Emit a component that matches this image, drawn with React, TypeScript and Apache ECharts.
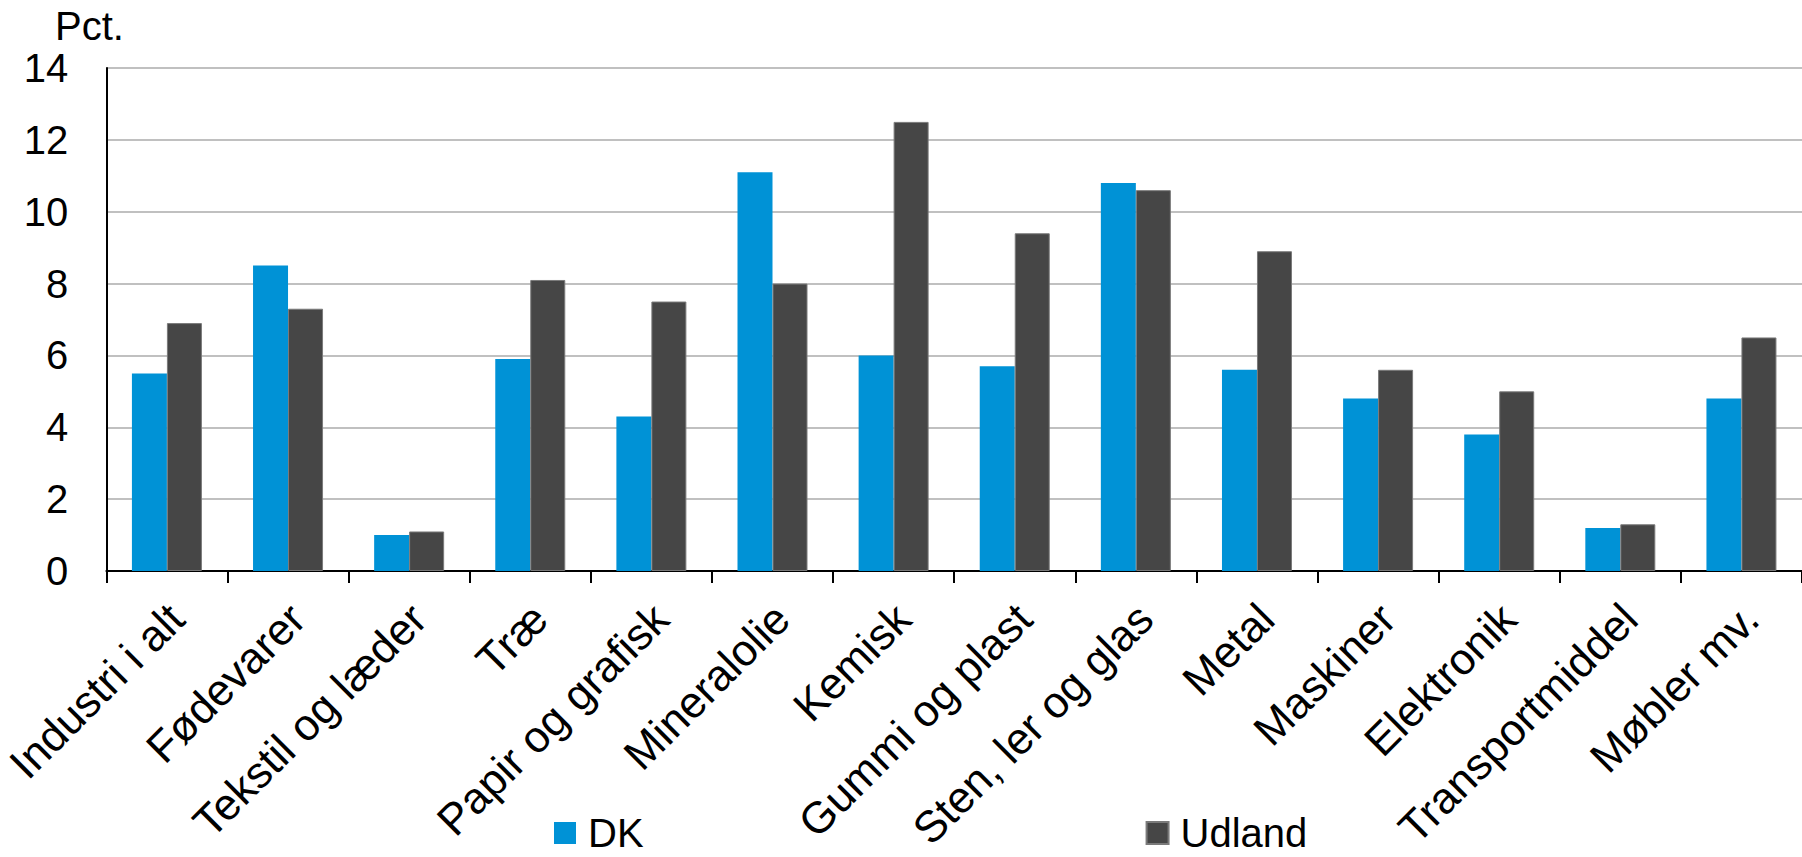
import React, { useEffect, useRef } from "react";
import * as echarts from "echarts";

const categories = [
  "Industri i alt",
  "Fødevarer",
  "Tekstil og læder",
  "Træ",
  "Papir og grafisk",
  "Mineralolie",
  "Kemisk",
  "Gummi og plast",
  "Sten, ler og glas",
  "Metal",
  "Maskiner",
  "Elektronik",
  "Transportmiddel",
  "Møbler mv.",
];
const dkValues = [5.5, 8.5, 1.0, 5.9, 4.3, 11.1, 6.0, 5.7, 10.8, 5.6, 4.8, 3.8, 1.2, 4.8];
const udlandValues = [6.9, 7.3, 1.1, 8.1, 7.5, 8.0, 12.5, 9.4, 10.6, 8.9, 5.6, 5.0, 1.3, 6.5];
const seriesNames = ["DK", "Udland"];
const yUnit = "Pct.";

const FONT = "'Liberation Sans', Arial, Helvetica, sans-serif";

export default function App() {
  const ref = useRef<HTMLDivElement>(null);
  useEffect(() => {
    if (!ref.current) return;
    const chart = echarts.init(ref.current, undefined, { renderer: "svg" });
    chart.setOption({
      animation: false,
      backgroundColor: "#ffffff",
      textStyle: { fontFamily: FONT },
      grid: { left: 95, top: 68, width: 1714, height: 503, containLabel: false },
      legend: {
        data: seriesNames,
        left: 549,
        top: 808,
        icon: "rect",
        itemWidth: 22,
        itemHeight: 22,
        itemGap: 502,
        textStyle: {
          fontSize: 40,
          lineHeight: 40,
          color: "#000",
          fontFamily: FONT,
          padding: [0, 0, 0, 7],
        },
      },
      graphic: [
        {
          type: "text",
          left: 55,
          top: 6,
          style: { text: yUnit, fontSize: 40, fill: "#000", fontFamily: FONT },
        },
      ],
      xAxis: {
        type: "category",
        data: categories,
        boundaryGap: true,
        axisLine: { show: true, lineStyle: { color: "#000", width: 2 } },
        axisTick: { show: true, length: 12, alignWithLabel: false, lineStyle: { color: "#000", width: 2 } },
        axisLabel: {
          interval: 0,
          rotate: 45,
          margin: 31,
          verticalAlign: "top",
          lineHeight: 26,
          fontSize: 44,
          color: "#000",
          fontFamily: FONT,
        },
      },
      yAxis: {
        type: "value",
        min: 0,
        max: 14,
        interval: 2,
        axisLine: { show: true, lineStyle: { color: "#000", width: 2 } },
        axisTick: { show: false },
        axisLabel: { fontSize: 40, color: "#000", margin: 38, fontFamily: FONT },
        splitLine: { show: true, lineStyle: { color: "#c0c0c0", width: 2 } },
      },
      series: [
        {
          name: seriesNames[0],
          type: "bar",
          data: dkValues,
          barWidth: 35,
          barGap: "0%",
          itemStyle: { color: "#0092D6" },
        },
        {
          name: seriesNames[1],
          type: "bar",
          data: udlandValues,
          barWidth: 35,
          barGap: "0%",
          itemStyle: { color: "#464646", borderColor: "#7a7a7a", borderWidth: 1 },
        },
      ],
    });
    return () => chart.dispose();
  }, []);
  return (
    <div
      ref={ref}
      style={{ position: "fixed", left: 0, top: 0, width: 1802, height: 857 }}
    />
  );
}
